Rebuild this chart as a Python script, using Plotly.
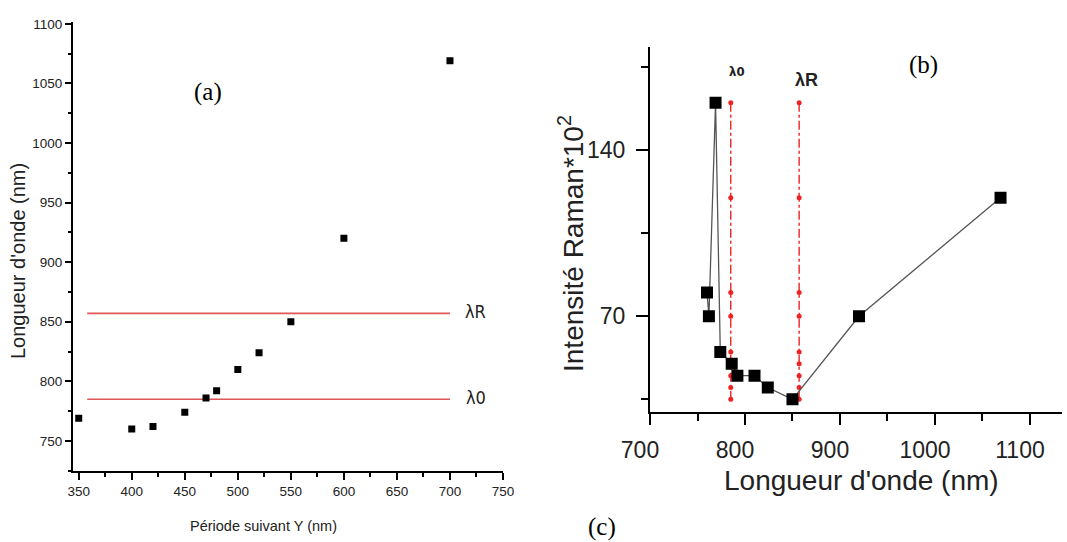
import plotly.graph_objects as go

# ---- data (a) ----
period = [350, 400, 420, 450, 470, 480, 500, 520, 550, 600, 700]
wavelength = [769, 760, 762, 774, 786, 792, 810, 824, 850, 920, 1069]
lambda0 = 785
lambdaR = 857
ref_line_x = [358, 700]

# ---- data (b) ----
wl_b = [760, 762, 769, 774, 786, 792, 810, 824, 850, 920, 1069]
raman = [80, 70, 160, 55, 50, 45, 45, 40, 35, 70, 120]
ref_marks_y = [160, 120, 80, 70, 55, 50, 45, 40, 35]

narrow = "Liberation Sans Narrow, Arial Narrow, DejaVu Sans Condensed, Liberation Sans, Arial"
sans = "Liberation Sans, Arial, sans-serif"
serif = "Liberation Serif, Times New Roman, serif"

W, H = 1067, 542

fig = go.Figure()

# (a) red reference lines
for lv in (lambdaR, lambda0):
    fig.add_trace(go.Scatter(x=ref_line_x, y=[lv, lv], mode="lines",
                             line=dict(color="#e05555", width=1.6),
                             xaxis="x", yaxis="y", showlegend=False, hoverinfo="skip"))
fig.add_trace(go.Scatter(x=period, y=wavelength, mode="markers",
                         marker=dict(symbol="square", size=7, color="black"),
                         xaxis="x", yaxis="y", showlegend=False))

# (b) red dash-dot verticals with dots
for lv in (lambda0, lambdaR):
    fig.add_trace(go.Scatter(x=[lv] * len(ref_marks_y), y=ref_marks_y, mode="lines+markers",
                             line=dict(color="#ee2222", width=1.4, dash="dashdot"),
                             marker=dict(size=5, color="#ee2222"),
                             xaxis="x2", yaxis="y2", showlegend=False, hoverinfo="skip"))
fig.add_trace(go.Scatter(x=wl_b, y=raman, mode="lines+markers",
                         line=dict(color="#555555", width=1.3),
                         marker=dict(symbol="square", size=12, color="black"),
                         xaxis="x2", yaxis="y2", showlegend=False))

fig.update_layout(
    width=W, height=H,
    margin=dict(l=0, r=0, t=0, b=0),
    paper_bgcolor="white", plot_bgcolor="white",
    xaxis=dict(domain=[73 / W, 503 / W], range=[344.6, 750], anchor="y", automargin=False,
               tickvals=[350, 400, 450, 500, 550, 600, 650, 700, 750],
               showline=True, linecolor="black", linewidth=2,
               ticks="outside", ticklen=7, tickwidth=1.5, tickcolor="black",
               minor=dict(dtick=25, tick0=350, ticks="outside", ticklen=4, tickcolor="black"),
               showgrid=False, zeroline=False,
               tickfont=dict(family=sans, size=13.5, color="#222")),
    yaxis=dict(domain=[1 - 470.7 / H, 1 - 22 / H], range=[725, 1101.5], anchor="x", automargin=False,
               tickvals=[750, 800, 850, 900, 950, 1000, 1050, 1100],
               showline=True, linecolor="black", linewidth=2,
               ticks="outside", ticklen=6, tickwidth=1.5, tickcolor="black",
               minor=dict(dtick=25, tick0=750, ticks="outside", ticklen=3, tickcolor="black"),
               showgrid=False, zeroline=False,
               tickfont=dict(family=sans, size=13.5, color="#222")),
    xaxis2=dict(domain=[650 / W, 1062 / W], range=[700, 1133.7], anchor="y2", automargin=False,
                tickvals=[700, 800, 900, 1000, 1100],
                showline=True, linecolor="black", linewidth=2,
                ticks="outside", ticklen=11, tickwidth=1.5, tickcolor="black",
                minor=dict(dtick=50, tick0=700, ticks="outside", ticklen=7, tickcolor="black"),
                ticklabelshift=-10, ticklabelstandoff=6,
                showgrid=False, zeroline=False,
                tickfont=dict(family=sans, size=23, color="#222")),
    yaxis2=dict(domain=[1 - 411.7 / H, 1 - 46.7 / H], range=[29.8, 183.6], anchor="x2", automargin=False,
                tickvals=[70, 140],
                showline=True, linecolor="black", linewidth=2,
                ticks="outside", ticklen=12, tickwidth=1.5, tickcolor="black",
                minor=dict(tickvals=[35, 105, 175], ticks="outside", ticklen=7, tickcolor="black"),
                ticklabelstandoff=6,
                showgrid=False, zeroline=False,
                tickfont=dict(family=sans, size=23, color="#222")),
)


def ann(text, xp, yp, family, size, angle=0):
    return dict(text=text, x=xp / W, y=1 - yp / H, xref="paper", yref="paper",
                xanchor="center", yanchor="middle", showarrow=False, textangle=angle,
                font=dict(family=family, size=size, color="#222" if family != serif else "black"))


anns = [
    ann("(a)", 208, 92, serif, 25),
    ann("(b)", 923, 65, serif, 25),
    ann("(c)", 602, 527, serif, 25),
    # axis titles
    ann("Période suivant Y (nm)", 263, 526, sans, 14.5),
    ann("Longueur d'onde (nm)", 18, 261, sans, 20, -90),
    ann("Longueur d'onde (nm)", 861, 480, sans, 28),
    ann("Intensité Raman*10<sup>2</sup>", 571, 244, sans, 28, -90),
    # lambda labels on (a)
    ann("λR", 475, 311, narrow, 18),
    ann("λ0", 476, 397, narrow, 18),
    # lambda labels on (b)
    ann("<b>λ0</b>", 737, 72, narrow, 13),
    ann("<b>λR</b>", 806, 80, sans, 18),
]
fig.update_layout(annotations=anns)

fig.write_html("out.html")
